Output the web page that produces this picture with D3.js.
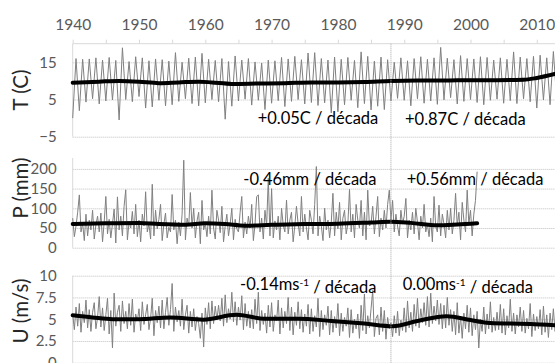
<!DOCTYPE html>
<html>
<head>
<meta charset="utf-8">
<script src="https://cdn.jsdelivr.net/npm/d3@7"></script>
<style>
  body { margin: 0; background: #fff; }
  svg { display: block; font-family: Lato, "Open Sans", sans-serif; }
</style>
</head>
<body>
<svg id="chart" width="555" height="363"></svg>
<script>
// year ticks on the top axis
var yearTicks = [1940, 1945, 1950, 1955, 1960, 1965, 1970, 1975, 1980, 1985, 1990, 1995, 2000, 2005, 2010];
var breakYear = 1988;

// temperature: winter minimum (start of year) and summer maximum (mid year), 1940..
var tLow = [0.0, 2.0, 4.3, 5.2, 3.8, 4.6, 4.9, -0.5, 5.0, 4.4,
  5.8, 2.7, 3.0, 4.8, 3.3, 3.6, 4.5, 5.2, 3.9, 3.3,
  4.1, 5.0, 4.4, -0.3, 3.2, 4.6, 5.1, 3.5, 4.8, 2.3,
  4.0, 4.7, 3.1, 4.5, 5.0, 3.8, 4.2, 3.4, 4.1, 1.4,
  1.7, 3.6, 4.8, 2.8, 3.9, 2.2, 3.2, 2.3, 4.6, 5.3,
  4.8, 3.3, 5.2, 4.0, 4.6, 3.7, 4.9, 5.5, 3.8, 4.5,
  5.0, 4.2, 3.6, 4.8, 5.1, 4.0, 4.7, 3.9, 5.2, 4.4,
  2.7, 4.9, 3.6, 5.0];
var tHigh = [16.0, 15.8, 15.9, 16.2, 15.6, 16.3, 15.5, 18.9, 15.2, 16.5,
  16.2, 15.4, 15.9, 15.7, 15.3, 17.6, 15.0, 16.1, 16.4, 17.4,
  15.8, 15.5, 16.0, 15.2, 16.7, 15.6, 16.0, 15.1, 14.8, 15.6,
  15.4, 16.3, 15.9, 16.6, 15.7, 17.5, 17.6, 16.0, 15.6, 16.4,
  15.8, 16.3, 15.5, 17.8, 16.6, 15.3, 16.4, 15.7, 15.0, 16.2,
  15.4, 16.0, 16.5, 15.8, 16.2, 19.0, 16.1, 15.7, 16.8, 16.0,
  15.9, 16.5, 16.3, 15.6, 16.2, 15.8, 17.8, 16.4, 16.0, 16.6,
  16.9, 16.2, 17.9];
var tTrendYears = [1940, 1944, 1947, 1950, 1953, 1956, 1959, 1961, 1964, 1968, 1972, 1976, 1980, 1984, 1988, 1992, 1996, 2000, 2004, 2008, 2010, 2013];
var tTrend = [9.5, 9.8, 10.0, 9.8, 9.4, 9.6, 9.8, 9.6, 9.2, 9.3, 9.4, 9.6, 9.6, 9.7, 10.0, 10.1, 10.1, 10.2, 10.2, 10.3, 10.8, 12.0];

// precipitation, four readings per year from 1940
var pVals = [75, 28, 55, 90, 134, 40, 62, 18, 85, 30, 70, 45, 95, 22, 58, 80,
  40, 88, 15, 65, 130, 35, 72, 25, 60, 98, 12, 129, 45, 80, 30, 105,
  147, 20, 66, 50, 92, 35, 110, 28,
  70, 15, 85, 55, 142, 40, 60, 22, 161, 30, 95, 48, 72, 110, 18, 60,
  88, 25, 52, 40, 135, 45, 70, 10, 65, 30, 85, 222, 20, 75, 55, 140,
  50, 100, 25, 68, 90, 10, 120, 45,
  62, 28, 80, 35, 146, 50, 22, 95, 70, 38, 105, 15, 55, 85, 30, 60,
  100, 20, 72, 48, 40, 90, 130, 25, 65, 35, 80, 50, 110, 18, 60, 130,
  134, 40, 75, 22, 95, 55, 176, 30,
  150, 25, 68, 45, 80, 20, 100, 58, 40, 121, 35, 70, 90, 15, 55, 105,
  60, 30, 130, 40, 85, 50, 20, 95, 70, 35, 110, 206, 30, 80, 55, 18,
  100, 45, 70, 25, 65, 138, 30, 90,
  48, 115, 20, 75, 95, 35, 60, 148, 40, 85, 25, 110, 70, 50, 120, 30,
  90, 20, 146, 55, 60, 105, 35, 80, 130, 28, 75, 45, 95, 50, 110, 146,
  70, 120, 40, 85, 55, 30, 95, 60,
  80, 125, 25, 70, 45, 90, 35, 100, 65, 20, 80, 50, 110, 40, 60, 28,
  75, 15, 130, 55, 40, 108, 30, 85, 60, 25, 95, 45, 100, 35, 70, 138,
  55, 90, 20, 115, 70, 40, 146, 60,
  95, 30, 85, 120, 193];
var pTrendYears = [1940, 1945, 1950, 1953, 1957, 1960, 1963, 1966, 1970, 1975, 1980, 1985, 1988, 1991, 1995, 1998, 2001];
var pTrend = [60, 62, 63, 60, 58, 62, 60, 56, 58, 60, 61, 64, 66, 63, 57, 59, 62];

// wind speed, four readings per year from 1940
var uVals = [5.6, 3.8, 6.4, 4.2, 6.8, 3.5, 5.9, 4.6, 7.2, 4.0, 6.1, 3.6, 5.8, 6.9, 3.9, 5.2,
  7.6, 4.1, 6.3, 3.7, 5.5, 7.4, 3.3, 6.0, 1.7, 8.0, 4.2, 5.8, 6.6, 3.6, 7.1, 4.5,
  5.9, 3.9, 6.8, 4.3, 7.3, 3.5, 5.6, 4.8,
  6.2, 3.7, 7.0, 4.4, 5.5, 6.7, 3.8, 5.1, 7.4, 3.1, 6.0, 4.6, 6.5, 4.0, 7.2, 3.9,
  5.8, 7.5, 4.3, 6.1, 9.1, 3.6, 6.4, 4.7, 6.0, 4.2, 7.3, 3.8, 5.5, 6.6, 3.4, 5.9,
  4.1, 6.2, 3.7, 5.3, 4.5, 2.8, 5.7, 1.8,
  6.3, 4.4, 6.9, 3.9, 7.1, 4.5, 6.5, 4.9, 6.6, 4.8, 7.4, 4.2, 7.8, 4.6, 6.2, 5.0,
  8.1, 4.7, 7.0, 4.3, 6.4, 4.9, 7.7, 3.8, 6.8, 4.2, 5.9, 4.0, 6.1, 3.9, 7.3, 4.5,
  8.1, 3.7, 6.0, 4.4, 5.7, 3.4, 6.6, 4.1,
  6.9, 3.6, 5.5, 4.8, 7.2, 3.3, 6.3, 4.0, 5.9, 4.5, 7.5, 3.7, 6.4, 3.2, 5.8, 4.3,
  7.0, 3.9, 6.1, 3.5, 5.6, 4.2, 6.7, 3.3, 6.2, 3.6, 5.4, 4.1, 7.4, 3.0, 6.0, 3.8,
  5.5, 4.3, 6.5, 3.2, 6.0, 3.5, 5.3, 4.0,
  6.8, 3.1, 5.7, 3.6, 5.2, 4.2, 6.3, 2.9, 6.1, 3.4, 5.0, 3.9, 5.6, 2.8, 6.6, 3.7,
  7.9, 3.3, 5.4, 4.0, 6.2, 8.3, 3.0, 5.1, 5.5, 3.2, 6.4, 3.6, 6.0, 2.7, 5.2, 3.9,
  4.6, 3.0, 5.4, 3.4, 5.9, 3.1, 4.9, 3.7,
  6.3, 3.5, 7.1, 4.0, 5.8, 3.6, 6.7, 4.2, 7.4, 4.0, 6.2, 4.6, 6.9, 4.3, 7.6, 4.1,
  8.0, 4.5, 6.5, 4.8, 7.2, 4.4, 6.8, 3.9, 6.6, 4.0, 7.5, 4.3, 6.1, 3.6, 5.9, 3.2,
  6.9, 3.4, 5.3, 2.8, 5.7, 3.9, 6.6, 3.5,
  6.3, 3.1, 5.5, 3.8, 5.9, 1.7, 5.0, 3.6, 6.4, 3.3, 5.6, 3.9, 7.0, 3.5, 5.2, 3.7,
  5.8, 3.8, 6.7, 3.4, 6.2, 3.2, 5.4, 4.0, 7.3, 3.6, 5.7, 3.3, 5.5, 4.1, 6.4, 3.6,
  6.0, 3.4, 5.1, 3.9, 6.8, 3.0, 5.6, 3.7,
  5.3, 3.9, 6.1, 3.2, 6.5, 3.5, 5.5, 2.9, 5.7, 3.8, 6.2, 3.6, 4.4];
var uTrendYears = [1940, 1943, 1946, 1950, 1954.7, 1959.7, 1964.7, 1969, 1974, 1979, 1984, 1988.3, 1992, 1996.4, 2000, 2002.4, 2006, 2009, 2013];
var uTrend = [5.45, 5.2, 5.0, 5.0, 5.2, 4.95, 5.5, 5.05, 5.05, 4.8, 4.5, 4.2, 4.8, 5.35, 4.9, 4.6, 4.5, 4.45, 4.3];

var tTicks = [-5, 5, 15];
var pTicks = [0, 50, 100, 150, 200];
var uTicks = [0, 2.5, 5, 7.5, 10];

var svg = d3.select("#chart");
var left = 72.7, right = 556.7;
var x = d3.scaleLinear().domain([1940, 2013]).range([left, right]);

var tSeries = [];
tLow.forEach(function (v, i) {
  tSeries.push([1940 + i, v]);
  if (i < tHigh.length) tSeries.push([1940 + i + 0.5, tHigh[i]]);
});
var pSeries = pVals.map(function (v, i) { return [1940 + i / 4, v]; });
var uSeries = uVals.map(function (v, i) { return [1940 + i / 4, v]; });

var panels = [
  { title: "T (C)", y: d3.scaleLinear().domain([-5, 20]).range([136.7, 43.7]), ticks: tTicks, top: 43.7, bottom: 136.7, titleY: 90,
    series: tSeries, trendYears: tTrendYears, trend: tTrend, fmt: d3.format("d") },
  { title: "P (mm)", y: d3.scaleLinear().domain([0, 200]).range([247.7, 168.9]), ticks: pTicks, top: 158, bottom: 247.7, titleY: 188,
    series: pSeries, trendYears: pTrendYears, trend: pTrend, fmt: d3.format("d") },
  { title: "U (m/s)", y: d3.scaleLinear().domain([0, 10]).range([362.7, 275.7]), ticks: uTicks, top: 275.7, bottom: 363, titleY: 311,
    series: uSeries, trendYears: uTrendYears, trend: uTrend, fmt: function (d) { return d3.format("~g")(d); } }
];

panels.forEach(function (p) {
  var g = svg.append("g");

  // gridlines + tick labels
  var ax = g.append("g")
    .attr("transform", "translate(" + left + ",0)")
    .call(d3.axisLeft(p.y).tickValues(p.ticks).tickSize(-(right - left)).tickPadding(16).tickFormat(p.fmt));
  ax.select(".domain").remove();
  ax.selectAll(".tick line").attr("stroke", "#bfbfbf").attr("stroke-dasharray", "1,1");
  ax.selectAll(".tick text").attr("fill", "#595959").style("font-size", "15px").style("font-family", "Lato, sans-serif");

  g.append("line")
    .attr("x1", left).attr("x2", left)
    .attr("y1", p.top).attr("y2", p.bottom)
    .attr("stroke", "#d9d9d9");

  var line = d3.line()
    .x(function (d) { return x(d[0]); })
    .y(function (d) { return p.y(d[1]); });

  g.append("path")
    .datum(p.series)
    .attr("d", line)
    .attr("fill", "none")
    .attr("stroke", "#808080")
    .attr("stroke-width", 1);

  var trendLine = d3.line()
    .x(function (d) { return x(d[0]); })
    .y(function (d) { return p.y(d[1]); })
    .curve(d3.curveMonotoneX);

  g.append("path")
    .datum(p.trendYears.map(function (yr, i) { return [yr, p.trend[i]]; }))
    .attr("d", trendLine)
    .attr("fill", "none")
    .attr("stroke", "#000")
    .attr("stroke-width", 4)
    .attr("stroke-linecap", "round");

  svg.append("text")
    .attr("transform", "translate(21," + p.titleY + ") rotate(-90)")
    .attr("text-anchor", "middle")
    .attr("dy", "0.35em")
    .attr("fill", "#262626")
    .style("font-size", "20.5px")
    .text(p.title);
});

// top year axis
var yearAxis = svg.append("g")
  .attr("transform", "translate(0,43.7)")
  .call(d3.axisTop(x).tickValues(yearTicks).tickSize(4).tickPadding(10)
    .tickFormat(function (d) { return d % 10 === 0 ? d : ""; }));
yearAxis.select(".domain").attr("stroke", "#d9d9d9").attr("d", "M" + left + ",0H" + right);
yearAxis.selectAll(".tick line").attr("stroke", "#d9d9d9");
yearAxis.selectAll(".tick text").attr("fill", "#595959").style("font-size", "15.5px").style("font-family", "Lato, sans-serif");

// break line
svg.append("line")
  .attr("x1", x(breakYear)).attr("x2", x(breakYear))
  .attr("y1", 43.7).attr("y2", 363)
  .attr("stroke", "#a6a6a6")
  .attr("stroke-dasharray", "1,1");

// trend notes
var notes = [
  { x: 257.7, y: 124, pre: "+0.05C", sup: "", post: " / década" },
  { x: 405, y: 125, pre: "+0.87C", sup: "", post: " / década" },
  { x: 243.3, y: 185, pre: "-0.46mm", sup: "", post: " / década" },
  { x: 406.7, y: 184.5, pre: "+0.56mm", sup: "", post: " / década" },
  { x: 240, y: 290, pre: "-0.14ms", sup: "-1", post: " / década" },
  { x: 402.7, y: 290, pre: "0.00ms", sup: "-1", post: " / década" }
];
notes.forEach(function (n) {
  var t = svg.append("text")
    .attr("x", n.x).attr("y", n.y)
    .attr("fill", "#000")
    .style("font-size", "16.5px");
  t.append("tspan").text(n.pre);
  if (n.sup) {
    t.append("tspan").attr("dy", "-0.45em").style("font-size", "10px").text(n.sup);
    t.append("tspan").attr("dy", "0.45em").text(n.post);
  } else {
    t.append("tspan").text(n.post);
  }
});
</script>
</body>
</html>
